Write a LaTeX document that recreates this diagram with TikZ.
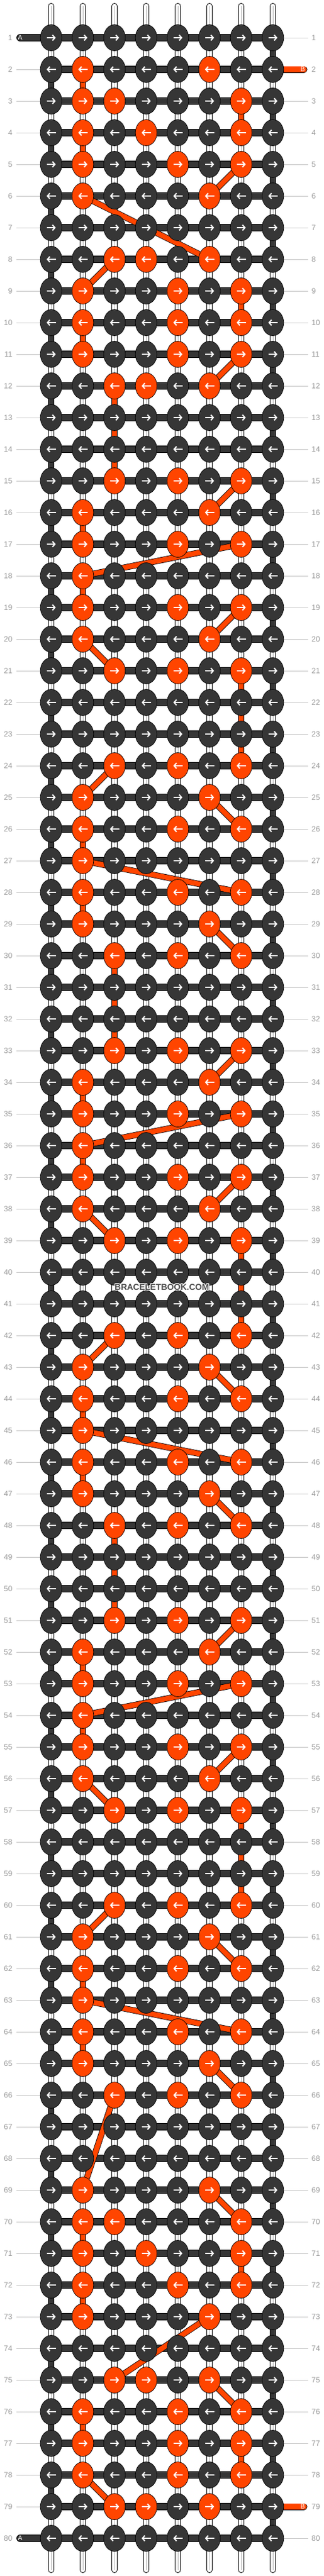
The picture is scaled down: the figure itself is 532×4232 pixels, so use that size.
\documentclass[tikz,border=0pt]{standalone}
\usepackage{fontspec}
\setmainfont{Liberation Sans}
\usetikzlibrary{shapes.geometric,arrows.meta}

\definecolor{knotdark}{HTML}{363636}
\definecolor{knotorng}{HTML}{FF4500}
\definecolor{lblgray}{HTML}{999999}
\definecolor{linegray}{HTML}{C4C4C4}
\definecolor{wmgray}{HTML}{4A4A4A}

\tikzset{
  knot/.style={ellipse, draw=black, line width=0.7pt, minimum width=35.5pt, minimum height=43pt, inner sep=0pt},
  knotarrow/.style={white, line width=2pt, -{Straight Barb[length=4pt,width=9pt]}},
  basestring/.style={draw=black, double=white, double distance=8pt, line width=1pt, line cap=round},
  knotbar/.style={draw=black, double=knotdark, double distance=10pt, line width=1pt},
  turnbar/.style={draw=black, double=knotdark, double distance=8.4pt, line width=0.8pt},
  bband/.style={draw=black, double=knotorng, double distance=8.4pt, line width=0.8pt},
  rowlbl/.style={text=lblgray, font=\fontsize{12.5}{13}\selectfont, inner sep=0pt},
  lblline/.style={draw=linegray, line width=1pt},
  stublbl/.style={text=white, font=\fontsize{11}{11}\selectfont, inner sep=0pt},
  wmark/.style={font=\bfseries\fontsize{14}{14}\selectfont, inner sep=0pt}
}

% one row of knots: row number, then 8 digits (1 = orange knot)
\newcommand{\knotrow}[9]{%
  \foreach \c/\v in {1/#2,2/#3,3/#4,4/#5,5/#6,6/#7,7/#8,8/#9}{%
    \ifnum\v=1 \def\kfill{knotorng}\else\def\kfill{knotdark}\fi
    \node[knot, fill=\kfill] (k-#1-\c) at (p-#1-\c) {};
    \ifodd#1\relax
      \draw[knotarrow] ([xshift=-7.5pt]k-#1-\c.center) -- ([xshift=7.5pt]k-#1-\c.center);
    \else
      \draw[knotarrow] ([xshift=7.5pt]k-#1-\c.center) -- ([xshift=-7.5pt]k-#1-\c.center);
    \fi
  }%
}

\begin{document}
\begin{tikzpicture}[x=1pt,y=-1pt]

\fill[white] (0,0) rectangle (532,4232);
\useasboundingbox (0,0) rectangle (532,4232);

% knot places
\foreach \r in {1,...,80}
  \foreach \c in {1,...,8}
    \coordinate (p-\r-\c) at ({84+52*(\c-1)},{62+52*(\r-1)});

% base strings
\foreach \c in {1,...,8} {
  \coordinate (top-\c) at ({84+52*(\c-1)},10);
  \coordinate (bot-\c) at ({84+52*(\c-1)},4222);
  \draw[basestring] (top-\c) -- (bot-\c);
  \draw[gray!60, line width=0.6pt] (top-\c) -- (bot-\c);
}

% row numbers
\foreach \r in {1,...,80} {
  \node[rowlbl, anchor=east] (ll-\r) at (20.5,{62+52*(\r-1)}) {\r};
  \node[rowlbl, anchor=west] (lr-\r) at (511.5,{62+52*(\r-1)}) {\r};
}
\foreach \r in {2,...,79}
  \draw[lblline] ([xshift=6pt]ll-\r.east) -- (p-\r-1);
\foreach \r in {1,...,80} {
  \ifnum\r=2 \else\ifnum\r=79 \else
    \draw[lblline] (p-\r-8) -- ([xshift=-6pt]lr-\r.west);
  \fi\fi
}

% knotting string A
\foreach \r in {1,...,80}
  \draw[knotbar] (p-\r-1) -- (p-\r-8);
\foreach \r [evaluate=\r as \rn using int(\r+1)] in {1,3,...,79}
  \draw[turnbar] (p-\r-8) -- (p-\rn-8);
\foreach \r [evaluate=\r as \rn using int(\r+1)] in {2,4,...,78}
  \draw[turnbar] (p-\r-1) -- (p-\rn-1);

\coordinate (a-in) at (33,62);
\coordinate (a-out) at (33,4170);
\draw[knotbar, line cap=round] (a-in) -- (p-1-1);
\draw[knotbar, line cap=round] (a-out) -- (p-80-1);
\node[stublbl] (a-lbl1) at (a-in) {A};
\node[stublbl] (a-lbl2) at (a-out) {A};

% knotting string B
\coordinate (b-in) at (499,114);
\coordinate (b-out) at (499,4118);
\draw[bband, double distance=9.4pt, line cap=round] (b-in) -- (p-2-8);
\draw[bband, double distance=9.4pt, line cap=round] (b-out) -- (p-79-8);
\node[stublbl] (b-lbl1) at (497,114) {B};
\node[stublbl] (b-lbl2) at (497,4118) {B};

\foreach \ra/\ca/\rb/\cb in {2/2/3/2, 3/7/4/7, 4/2/5/2, 5/7/6/6, 6/2/8/6, 8/3/9/2, 9/7/10/7, 10/2/11/2,
    11/7/12/6, 12/3/15/3, 15/7/16/6, 16/2/17/2, 17/7/18/2, 18/2/19/2, 19/7/20/6, 20/2/21/3,
    21/7/24/7, 24/3/25/2, 25/6/26/7, 26/2/27/2, 27/2/28/7, 28/2/29/2, 29/6/30/7, 30/3/33/3,
    33/7/34/6, 34/2/35/2, 35/7/36/2, 36/2/37/2, 37/7/38/6, 38/2/39/3, 39/7/42/7, 42/3/43/2,
    43/6/44/7, 44/2/45/2, 45/2/46/7, 46/2/47/2, 47/6/48/7, 48/3/51/3, 51/7/52/6, 52/2/53/2,
    53/7/54/2, 54/2/55/2, 55/7/56/6, 56/2/57/3, 57/7/60/7, 60/3/61/2, 61/6/62/7, 62/2/63/2,
    63/2/64/7, 64/2/65/2, 65/6/66/7, 66/3/69/2, 69/6/70/7, 70/2/71/2, 71/7/72/7, 72/2/73/2,
    73/6/75/3, 75/6/76/7, 76/2/77/2, 77/7/78/7, 78/2/79/3}
  \draw[bband] (p-\ra-\ca) -- (p-\rb-\cb);

% knots
\knotrow{1}00000000 \knotrow{2}01000100 \knotrow{3}01100010 \knotrow{4}01010010
\knotrow{5}01001010 \knotrow{6}01000100 \knotrow{7}00000000 \knotrow{8}00110100
\knotrow{9}01001010 \knotrow{10}01001010 \knotrow{11}01001010 \knotrow{12}00110100
\knotrow{13}00000000 \knotrow{14}00000000 \knotrow{15}00101010 \knotrow{16}01000100
\knotrow{17}01001010 \knotrow{18}01000000 \knotrow{19}01001010 \knotrow{20}01000100
\knotrow{21}00101010 \knotrow{22}00000000 \knotrow{23}00000000 \knotrow{24}00101010
\knotrow{25}01000100 \knotrow{26}01001010 \knotrow{27}01000000 \knotrow{28}01001010
\knotrow{29}01000100 \knotrow{30}00101010 \knotrow{31}00000000 \knotrow{32}00000000
\knotrow{33}00101010 \knotrow{34}01000100 \knotrow{35}01001010 \knotrow{36}01000000
\knotrow{37}01001010 \knotrow{38}01000100 \knotrow{39}00101010 \knotrow{40}00000000
\knotrow{41}00000000 \knotrow{42}00101010 \knotrow{43}01000100 \knotrow{44}01001010
\knotrow{45}01000000 \knotrow{46}01001010 \knotrow{47}01000100 \knotrow{48}00101010
\knotrow{49}00000000 \knotrow{50}00000000 \knotrow{51}00101010 \knotrow{52}01000100
\knotrow{53}01001010 \knotrow{54}01000000 \knotrow{55}01001010 \knotrow{56}01000100
\knotrow{57}00101010 \knotrow{58}00000000 \knotrow{59}00000000 \knotrow{60}00101010
\knotrow{61}01000100 \knotrow{62}01001010 \knotrow{63}01000000 \knotrow{64}01001010
\knotrow{65}01000100 \knotrow{66}00101010 \knotrow{67}00000000 \knotrow{68}00000000
\knotrow{69}01000100 \knotrow{70}01100010 \knotrow{71}01010010 \knotrow{72}01001010
\knotrow{73}01000100 \knotrow{74}00000000 \knotrow{75}00110100 \knotrow{76}01001010
\knotrow{77}01001010 \knotrow{78}01001010 \knotrow{79}00110100 \knotrow{80}00000000

% watermark
\foreach \dx/\dy [count=\i] in {1/0,-1/0,0/1,0/-1,1/1,1/-1,-1/1,-1/-1}
  \node[wmark, text=white] (wm-\i) at (265.8+\dx,2115+\dy) {BRACELETBOOK.COM};
\node[wmark, text=wmgray] (wm) at (265.8,2115) {BRACELETBOOK.COM};

\end{tikzpicture}
\end{document}
